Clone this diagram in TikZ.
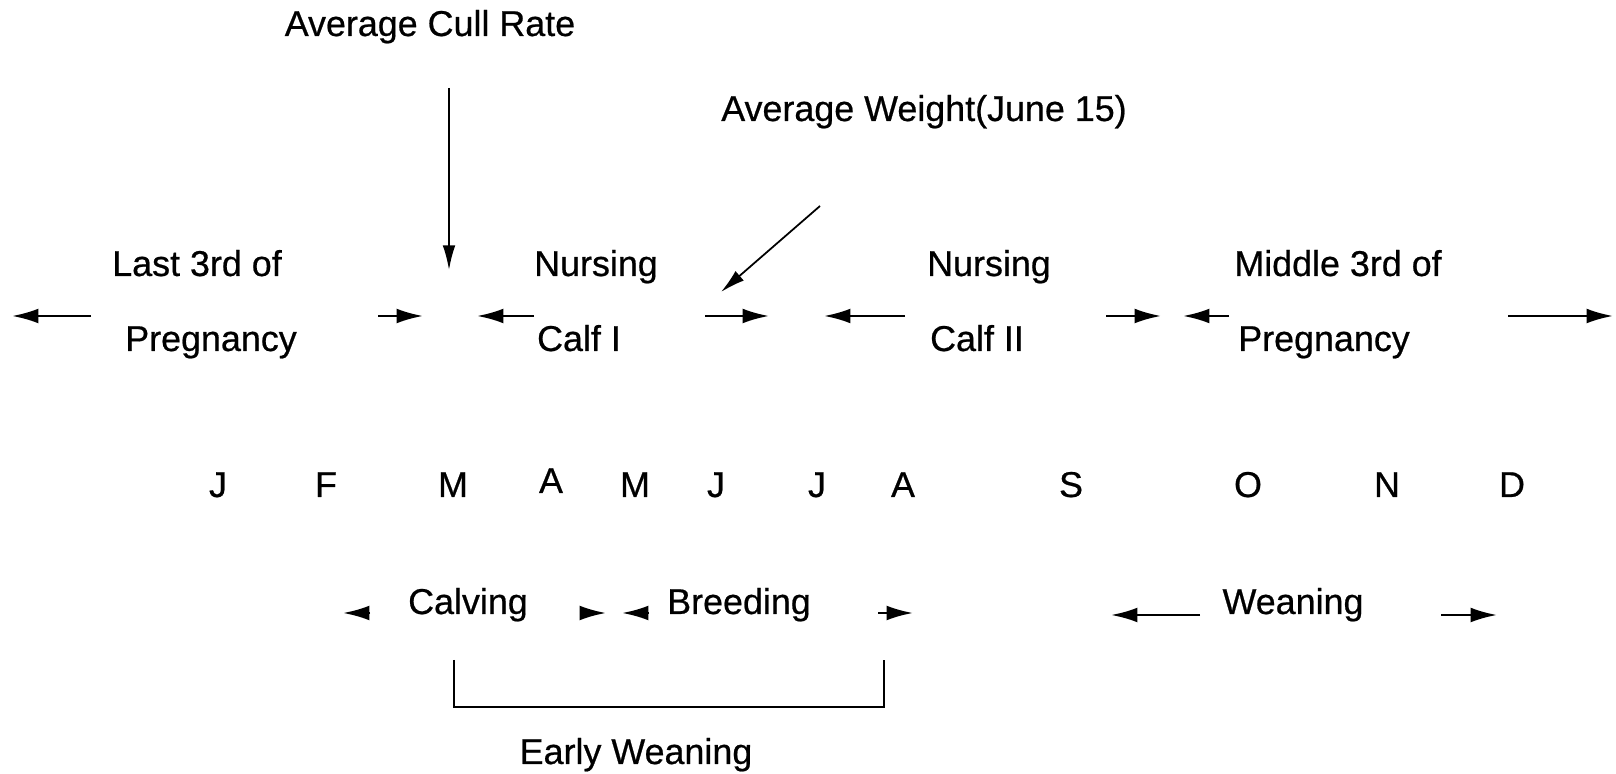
\documentclass[tikz,border=0pt]{standalone}
\usepackage{fontspec}
\setmainfont{Liberation Sans}[FakeBold=0.6]
\usetikzlibrary{arrows.meta}
\begin{document}
\begin{tikzpicture}[x=0.01cm, y=-0.01cm,
  lbl/.style={anchor=base, inner sep=0pt, font=\fontsize{10.2}{12}\selectfont},
  spanarrow/.style={-{Latex[length=7.5pt,width=4.2pt]}, line width=0.65pt},
  pointer/.style={-{Latex[length=7pt,width=3.6pt]}, line width=0.5pt}]
\useasboundingbox (0,0) rectangle (1616,774);
% labels at the top
\node[lbl] (a) at (430,36) {Average Cull Rate};
\node[lbl] (b) at (924,121) {Average Weight(June 15)};
% periods
\node[lbl] (c) at (197,276) {Last 3rd of};
\node[lbl] (d) at (211,351) {Pregnancy};
\node[lbl] (e) at (596,276) {Nursing};
\node[lbl] (f) at (579,351) {Calf I};
\node[lbl] (g) at (989,276) {Nursing};
\node[lbl] (h) at (977,351) {Calf II};
\node[lbl] (i) at (1338,276) {Middle 3rd of};
\node[lbl] (j) at (1324,351) {Pregnancy};
% months
\node[lbl] (m1) at (218,497) {J};
\node[lbl] (m2) at (326,497) {F};
\node[lbl] (m3) at (453,497) {M};
\node[lbl] (m4) at (551,493) {A};
\node[lbl] (m5) at (635,497) {M};
\node[lbl] (m6) at (716,497) {J};
\node[lbl] (m7) at (817,497) {J};
\node[lbl] (m8) at (903,497) {A};
\node[lbl] (m9) at (1071,497) {S};
\node[lbl] (m10) at (1248,497) {O};
\node[lbl] (m11) at (1387,497) {N};
\node[lbl] (m12) at (1512,497) {D};
% events
\node[lbl] (k) at (468,614) {Calving};
\node[lbl] (l) at (739,614) {Breeding};
\node[lbl] (n) at (1293,614) {Weaning};
\node[lbl] (o) at (636,764) {Early Weaning};
% arrow ends
\coordinate (p1) at (449,88);  \coordinate (p2) at (449,270);
\coordinate (p3) at (820,206); \coordinate (p4) at (721,292);
\coordinate (r1) at (91,316);   \coordinate (r2) at (12,316);
\coordinate (r3) at (378,316);  \coordinate (r4) at (423,316);
\coordinate (r5) at (534,316);  \coordinate (r6) at (477,316);
\coordinate (r7) at (705,316);  \coordinate (r8) at (769,316);
\coordinate (r9) at (905,316);  \coordinate (r10) at (824,316);
\coordinate (r11) at (1106,316); \coordinate (r12) at (1161,316);
\coordinate (r13) at (1229,316); \coordinate (r14) at (1183,316);
\coordinate (r15) at (1508,316); \coordinate (r16) at (1613,316);
\coordinate (s1) at (370,613);  \coordinate (s2) at (343,613);
\coordinate (s3) at (580,613);  \coordinate (s4) at (606,613);
\coordinate (s5) at (649,613);  \coordinate (s6) at (622,613);
\coordinate (s7) at (878,613);  \coordinate (s8) at (913,613);
\coordinate (s9) at (1200,615); \coordinate (s10) at (1111,615);
\coordinate (s11) at (1441,615); \coordinate (s12) at (1497,615);
\coordinate (q1) at (454,660);  \coordinate (q2) at (884,660);
\draw[pointer] (p1) -- (p2);
\draw[pointer] (p3) -- (p4);
\draw[spanarrow] (r1) -- (r2);
\draw[spanarrow] (r3) -- (r4);
\draw[spanarrow] (r5) -- (r6);
\draw[spanarrow] (r7) -- (r8);
\draw[spanarrow] (r9) -- (r10);
\draw[spanarrow] (r11) -- (r12);
\draw[spanarrow] (r13) -- (r14);
\draw[spanarrow] (r15) -- (r16);
\draw[spanarrow] (s1) -- (s2);
\draw[spanarrow] (s3) -- (s4);
\draw[spanarrow] (s5) -- (s6);
\draw[spanarrow] (s7) -- (s8);
\draw[spanarrow] (s9) -- (s10);
\draw[spanarrow] (s11) -- (s12);
\draw[line width=0.5pt] (q1) -- ++(0,47) -| (q2);
\end{tikzpicture}
\end{document}
